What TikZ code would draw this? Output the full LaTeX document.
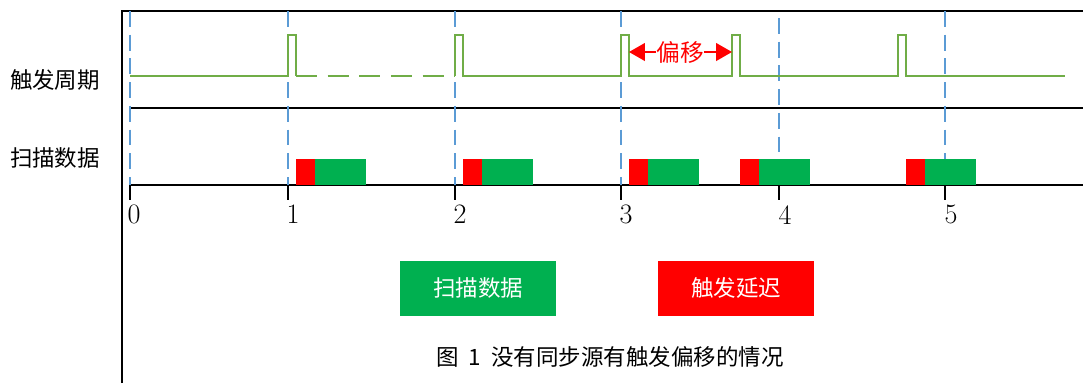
\documentclass[tikz,border=0pt]{standalone}
\usepackage{fontspec}
\newfontfamily\cjk{Noto Sans CJK SC}
\usetikzlibrary{arrows.meta}
\definecolor{trig}{HTML}{70AD47}
\definecolor{scan}{HTML}{00B050}
\definecolor{grid}{HTML}{5B9BD5}
\begin{document}
\begin{tikzpicture}[x=0.02cm, y=-0.02cm,
    frame/.style={line width=1.1pt},
    guide/.style={grid, line width=0.8pt, dash pattern=on 9pt off 4.5pt},
    sig/.style={trig, line width=1.1pt},
    lbl/.style={font=\cjk\fontsize{12.8}{14}\selectfont, inner sep=0pt},
    num/.style={font=\fontsize{16}{16}\selectfont, inner sep=0pt, anchor=north},
    key/.style={lbl, text=white, minimum width=3.12cm, minimum height=1.1cm}]
  \useasboundingbox (0,0) rectangle (1083,383);
  % frame
  \draw[frame] (122,383) -- (122,11) -- (1083,11);
  \draw[frame] (130,108) -- (1083,108);
  \draw[frame] (130,185) -- (1083,185);
  % time grid
  \draw[guide] (130,11) -- (130,185);
  \draw[guide] (288,11) -- (288,185);
  \draw[guide] (455,11) -- (455,185);
  \draw[guide] (621,11) -- (621,185);
  \draw[guide] (779,18) -- (779,185);
  \draw[guide] (945,11) -- (945,185);
  % ticks
  \draw[frame] (130,185) -- (130,200); \node[num] (t0) at (134,205) {0};
  \draw[frame] (288,185) -- (288,200); \node[num] (t1) at (293,205) {1};
  \draw[frame] (455,185) -- (455,200); \node[num] (t2) at (460,205) {2};
  \draw[frame] (621,185) -- (621,200); \node[num] (t3) at (626,205) {3};
  \draw[frame] (779,185) -- (779,200); \node[num] (t4) at (785,205) {4};
  \draw[frame] (945,185) -- (945,200); \node[num] (t5) at (951,205) {5};
  % trigger
  \node[lbl] (trigname) at (55,80) {触发周期};
  \draw[sig] (130,76) -- (288,76) -- (288,35) -- (296,35) -- (296,76);
  \draw[sig, dash pattern=on 12pt off 6pt] (296,76) -- (455,76);
  \draw[sig] (455,76) -- (455,35) -- (463,35) -- (463,76) -- (621,76) -- (621,35) -- (629,35) -- (629,76)
    -- (732,76) -- (732,35) -- (740,35) -- (740,76) -- (898,76) -- (898,35) -- (906,35) -- (906,76) -- (1065,76);
  \node[lbl, text=red, font=\cjk\fontsize{13.5}{14}\selectfont] (shift) at (680,52) {偏移};
  \coordinate (shiftl) at (629,52);
  \coordinate (shiftr) at (732,52);
  \draw[red, line width=1.1pt, -{Triangle[length=9pt,width=10pt]}] (shift.west) -- (shiftl);
  \draw[red, line width=1.1pt, -{Triangle[length=9pt,width=10pt]}] (shift.east) -- (shiftr);
  % scan data
  \node[lbl] (scanname) at (55,158) {扫描数据};
  \fill[red] (296,159) rectangle (315,185); \fill[scan] (315,159) rectangle (366,185);
  \fill[red] (463,159) rectangle (482,185); \fill[scan] (482,159) rectangle (533,185);
  \fill[red] (629,159) rectangle (648,185); \fill[scan] (648,159) rectangle (699,185);
  \fill[red] (740,159) rectangle (759,185); \fill[scan] (759,159) rectangle (810,185);
  \fill[red] (906,159) rectangle (925,185); \fill[scan] (925,159) rectangle (976,185);
  % legend
  \node[key, fill=scan] (keyscan) at (478,288) {扫描数据};
  \node[key, fill=red] (keydelay) at (736,288) {触发延迟};
  \node[lbl] (caption) at (610,357) {图\hspace{0.45em}1\hspace{0.45em}没有同步源有触发偏移的情况};
\end{tikzpicture}
\end{document}
